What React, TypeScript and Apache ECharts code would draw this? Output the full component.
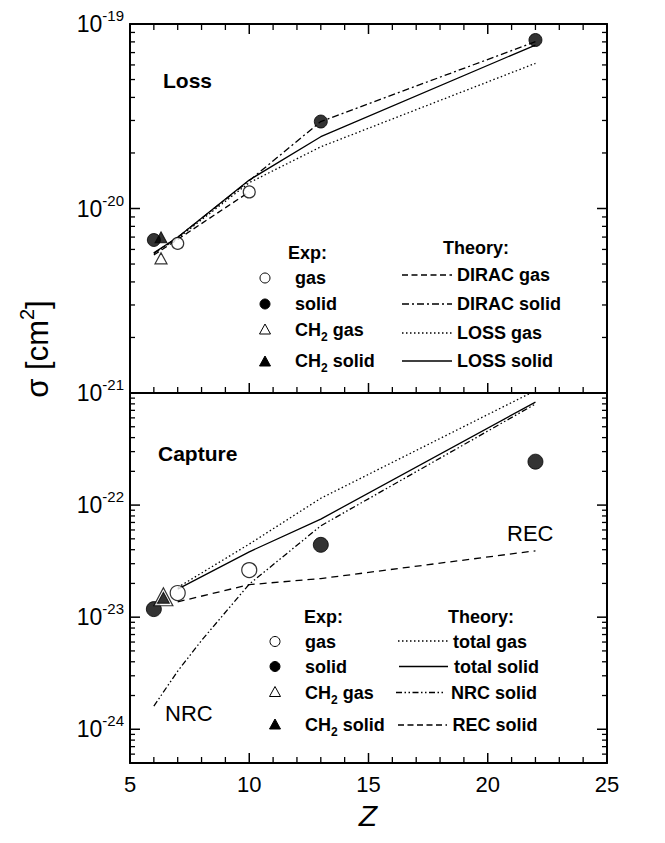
import React, { useEffect, useRef } from 'react';
import * as echarts from 'echarts';

// ---------- data ----------
const Z_MIN = 5;
const Z_MAX = 25;
const Z_INTERVAL = 5;
const zTicks = [6, 7, 8, 9, 10, 11, 12, 13, 14, 15, 16, 17, 18, 19, 20, 21, 22, 23, 24];

// Loss panel: theory curves
const lossTheoryZ = [6, 7, 10, 13, 22];
const diracGasZ = [6, 7, 10];
const diracGas = [5.6e-21, 6.8e-21, 1.23e-20];
const diracSolid = [5.71e-21, 6.98e-21, 1.416e-20, 2.96e-20, 8.02e-20];
const lossGas = [5.71e-21, 6.89e-21, 1.38e-20, 2.16e-20, 6.12e-20];
const lossSolid = [5.76e-21, 6.98e-21, 1.427e-20, 2.45e-20, 7.69e-20];
// Loss panel: experiment
const lossExpGasZ = [7, 10];
const lossExpGas = [6.47e-21, 1.23e-20];
const lossExpSolidZ = [6, 13, 22];
const lossExpSolid = [6.75e-21, 2.96e-20, 8.19e-20];
const lossCH2GasZ = [6.3];
const lossCH2Gas = [5.37e-21];
const lossCH2SolidZ = [6.3];
const lossCH2Solid = [6.98e-21];

// Capture panel: theory curves
const capTheoryZ = [7, 10, 13, 22];
const totalGas = [1.84e-23, 4.49e-23, 1.15e-22, 1.05e-21];
const totalSolid = [1.78e-23, 3.83e-23, 7.5e-23, 8.3e-22];
const recSolid = [1.37e-23, 1.95e-23, 2.21e-23, 3.91e-23];
const nrcZ = [6, 7, 8, 10, 13, 22];
const nrcSolid = [1.61e-24, 3.3e-24, 6.2e-24, 1.97e-23, 6.53e-23, 7.98e-22];
// Capture panel: experiment
const capExpGasZ = [7, 10];
const capExpGas = [1.64e-23, 2.63e-23];
const capExpSolidZ = [6, 13, 22];
const capExpSolid = [1.18e-23, 4.42e-23, 2.44e-22];
const capCH2GasZ = [6.4];
const capCH2Gas = [1.52e-23];
const capCH2SolidZ = [6.4];
const capCH2Solid = [1.49e-23];

// axis ranges / ticks
const lossYMin = 1e-21;
const lossYMax = 1e-19;
const capYMin = 5e-25;
const capYMax = 1e-21;
const minorMultiples = [1, 2, 3, 4, 5, 6, 7, 8, 9];
const lossDecades = [-21, -20, -19];
const capDecades = [-25, -24, -23, -22, -21];

// texts
const lossTitle = 'Loss';
const capTitle = 'Capture';
const expLabels = ['gas', 'solid', 'CH2 gas', 'CH2 solid'];
const lossTheoryLabels = ['DIRAC gas', 'DIRAC solid', 'LOSS gas', 'LOSS solid'];
const capTheoryLabels = ['total gas', 'total solid', 'NRC solid', 'REC solid'];

// ---------- helpers ----------
const FONT = "'Liberation Sans', Arial, Helvetica, sans-serif";
const zip = (xs: number[], ys: number[]) => xs.map((x, i) => [x, ys[i]]);

const DASH = [6, 3.5];
const DASHDOT = [7, 3, 2, 3];
const DOT = [1.5, 2.5];
const DASHDOTDOT = [6, 2.5, 1.5, 2.5, 1.5, 2.5];
const REC_DASH = [7, 5];

const yTickVals = (decades: number[], lo: number, hi: number, major: boolean) => {
  const out: number[] = [];
  decades.forEach((d) => {
    minorMultiples.forEach((m) => {
      const v = m * Math.pow(10, d);
      if (v > lo * 1.0001 && v <= hi * 1.0001 && (m === 1) === major) out.push(v);
    });
  });
  return out;
};

const logLabel = (hide: number[]) => (v: number) => {
  const e = Math.log10(v);
  const r = Math.round(e);
  if (Math.abs(e - r) > 1e-6 || hide.includes(r)) return '';
  return `{b|10}{s|${r}}`;
};

const lineSeries = (xi: number, yi: number, data: number[][], type: any) => ({
  type: 'line',
  xAxisIndex: xi,
  yAxisIndex: yi,
  data,
  symbol: 'none',
  showSymbol: false,
  clip: true,
  silent: true,
  z: 2,
  lineStyle: { color: '#000', width: 1.3, type },
});

const scatterSeries = (
  xi: number,
  yi: number,
  data: number[][],
  symbol: string,
  size: any,
  filled: boolean,
  z = 4
) => ({
  type: 'scatter',
  xAxisIndex: xi,
  yAxisIndex: yi,
  data,
  symbol,
  symbolSize: size,
  silent: true,
  z,
  itemStyle: filled
    ? { color: '#000', borderColor: '#000', borderWidth: 1 }
    : { color: '#fff', borderColor: '#000', borderWidth: 1.2 },
});

// tick marks drawn as thin rect symbols placed by the axes' own scales
const tickSeries = (xi: number, yi: number, data: number[][], size: number[], offset: number[]) => ({
  type: 'scatter',
  xAxisIndex: xi,
  yAxisIndex: yi,
  data,
  symbol: 'rect',
  symbolSize: size,
  symbolOffset: offset,
  silent: true,
  clip: false,
  z: 10,
  itemStyle: { color: '#000', borderWidth: 0, opacity: 1 },
  emphasis: { disabled: true },
});

const panelTicks = (yi: number, lo: number, hi: number, decades: number[], topTicks: boolean) => {
  const out: any[] = [];
  const majZ = zTicks.filter((z) => z % Z_INTERVAL === 0);
  const minZ = zTicks.filter((z) => z % Z_INTERVAL !== 0);
  // x ticks, bottom edge (pointing up)
  out.push(tickSeries(yi, yi, majZ.map((z) => [z, lo]), [1.5, 10], [0, -5]));
  out.push(tickSeries(yi, yi, minZ.map((z) => [z, lo]), [1.3, 6], [0, -3]));
  if (topTicks) {
    out.push(tickSeries(yi, yi, majZ.map((z) => [z, hi]), [1.5, 10], [0, 5]));
    out.push(tickSeries(yi, yi, minZ.map((z) => [z, hi]), [1.3, 6], [0, 3]));
  }
  const majV = yTickVals(decades, lo, hi, true);
  const minV = yTickVals(decades, lo, hi, false);
  // y ticks, left edge (pointing right) and right edge (pointing left)
  out.push(tickSeries(yi, yi, majV.map((v) => [Z_MIN, v]), [10, 1.5], [5, 0]));
  out.push(tickSeries(yi, yi, minV.map((v) => [Z_MIN, v]), [5, 1.3], [2.5, 0]));
  out.push(tickSeries(yi, yi, majV.map((v) => [Z_MAX, v]), [10, 1.5], [-5, 0]));
  out.push(tickSeries(yi, yi, minV.map((v) => [Z_MAX, v]), [5, 1.3], [-2.5, 0]));
  return out;
};

const RICH_LEG = {
  n: { fontFamily: FONT, fontSize: 18, fontWeight: 'bold', lineHeight: 26, color: '#000' },
  sub: { fontFamily: FONT, fontSize: 12, fontWeight: 'bold', lineHeight: 12, verticalAlign: 'bottom', color: '#000' },
};

const withSub = (s: string) => {
  if (s.startsWith('CH2')) return `{n|CH}{sub|2}{n|${s.slice(3)}}`;
  return `{n|${s}}`;
};

const txt = (x: number, y: number, text: string, extra: any = {}) => ({
  type: 'text',
  x,
  y,
  z: 100,
  silent: true,
  style: {
    text,
    fill: '#000',
    fontFamily: FONT,
    fontSize: 18,
    fontWeight: 'bold',
    align: 'left',
    verticalAlign: 'middle',
    rich: RICH_LEG,
    ...extra,
  },
});

const sample = (x1: number, x2: number, y: number, dash: any) => ({
  type: 'line',
  z: 100,
  silent: true,
  shape: { x1, y1: y, x2, y2: y },
  style: { stroke: '#000', lineWidth: 1.3, lineDash: dash },
});

const circ = (x: number, y: number, r: number, filled: boolean) => ({
  type: 'circle',
  z: 100,
  silent: true,
  shape: { cx: x, cy: y, r },
  style: { fill: filled ? '#000' : '#fff', stroke: '#000', lineWidth: 1 },
});

const tri = (x: number, y: number, w: number, h: number, filled: boolean) => ({
  type: 'polygon',
  z: 100,
  silent: true,
  shape: { points: [[x - w / 2, y + h / 2], [x + w / 2, y + h / 2], [x, y - h / 2]] },
  style: { fill: filled ? '#000' : '#fff', stroke: '#000', lineWidth: 1 },
});

export default function App() {
  const ref = useRef<HTMLDivElement>(null);

  useEffect(() => {
    if (!ref.current) return;
    const chart = echarts.init(ref.current, null, { renderer: 'svg' });

    const xBase = (gridIndex: number, position: string, showLabel: boolean) => ({
      type: 'value',
      gridIndex,
      position,
      min: Z_MIN,
      max: Z_MAX,
      interval: Z_INTERVAL,
      axisLine: { show: true, onZero: false, lineStyle: { color: '#000', width: 2 } },
      axisTick: { show: false },
      minorTick: { show: false },
      splitLine: { show: false },
      axisLabel: {
        show: showLabel,
        margin: 10,
        color: '#000',
        fontFamily: FONT,
        fontSize: 22,
      },
    });
    const yBase = (gridIndex: number, position: string, min: number, max: number, showLabel: boolean, hide: number[]) => ({
      type: 'log',
      logBase: 10,
      gridIndex,
      position,
      min,
      max,
      axisLine: { show: true, onZero: false, lineStyle: { color: '#000', width: 2 } },
      axisTick: { show: false },
      minorTick: { show: false },
      splitLine: { show: false },
      axisLabel: {
        show: showLabel,
        margin: 6,
        formatter: logLabel(hide),
        rich: {
          b: { fontFamily: FONT, fontSize: 23, lineHeight: 32, color: '#000' },
          s: { fontFamily: FONT, fontSize: 15, lineHeight: 14, verticalAlign: 'top', color: '#000' },
        },
      },
    });

    const graphic: any[] = [
      // panel titles
      txt(163, 80, lossTitle, { rich: undefined, fontSize: 21 }),
      txt(158, 453, capTitle, { rich: undefined, fontSize: 21 }),
      txt(507, 533, 'REC', { rich: undefined, fontSize: 22, fontWeight: 'normal' }),
      txt(165, 713, 'NRC', { rich: undefined, fontSize: 22, fontWeight: 'normal' }),
      // axis titles
      {
        type: 'text',
        x: 37,
        y: 349,
        rotation: Math.PI / 2,
        z: 100,
        silent: true,
        style: {
          text: '{a|σ [cm}{s|2}{a|]}',
          align: 'center',
          verticalAlign: 'middle',
          fill: '#000',
          rich: {
            a: { fontFamily: FONT, fontSize: 31, lineHeight: 40, color: '#000' },
            s: { fontFamily: FONT, fontSize: 20, lineHeight: 22, verticalAlign: 'top', color: '#000' },
          },
        },
      },
      {
        type: 'text',
        x: 368,
        y: 815,
        z: 100,
        silent: true,
        style: {
          text: 'Z',
          align: 'center',
          verticalAlign: 'middle',
          fill: '#000',
          fontFamily: FONT,
          fontSize: 30,
          fontStyle: 'italic',
        },
      },
      // top legend
      txt(288, 253, '{n|Exp:}'),
      txt(443, 248, '{n|Theory:}'),
      circ(265, 278, 5, false),
      circ(265, 304, 5, true),
      tri(265, 329, 11, 10, false),
      tri(265, 361, 11, 10, true),
      txt(295, 278, withSub(expLabels[0])),
      txt(295, 304, withSub(expLabels[1])),
      txt(295, 330, withSub(expLabels[2])),
      txt(295, 361, withSub(expLabels[3])),
      sample(402, 452, 275, DASH),
      sample(402, 452, 304, DASHDOT),
      sample(402, 452, 333, DOT),
      sample(402, 452, 361, null),
      txt(457, 275, withSub(lossTheoryLabels[0])),
      txt(457, 304, withSub(lossTheoryLabels[1])),
      txt(457, 333, withSub(lossTheoryLabels[2])),
      txt(457, 361, withSub(lossTheoryLabels[3])),
      // bottom legend
      txt(304, 617, '{n|Exp:}'),
      txt(448, 617, '{n|Theory:}'),
      circ(275, 641.5, 5, false),
      circ(275, 666.5, 5, true),
      tri(275, 691.5, 11, 10, false),
      tri(275, 724, 11, 10, true),
      txt(305, 641.5, withSub(expLabels[0])),
      txt(305, 666.5, withSub(expLabels[1])),
      txt(305, 692.5, withSub(expLabels[2])),
      txt(305, 725, withSub(expLabels[3])),
      sample(398, 448, 641, DOT),
      sample(399, 448, 666.5, null),
      sample(396, 444, 692.5, DASHDOTDOT),
      sample(398, 447, 725, DASH),
      txt(453, 641.5, withSub(capTheoryLabels[0])),
      txt(454, 666.5, withSub(capTheoryLabels[1])),
      txt(451, 692.5, withSub(capTheoryLabels[2])),
      txt(452.5, 725, withSub(capTheoryLabels[3])),
    ];

    chart.setOption({
      animation: false,
      grid: [
        { left: 130, top: 24, width: 477, height: 369, outerBoundsMode: 'none', containLabel: false },
        { left: 130, top: 393, width: 477, height: 370, outerBoundsMode: 'none', containLabel: false },
      ],
      xAxis: [xBase(0, 'bottom', false), xBase(1, 'bottom', true), xBase(0, 'top', false)],
      yAxis: [
        yBase(0, 'left', lossYMin, lossYMax, true, [-21]),
        yBase(1, 'left', capYMin, capYMax, true, []),
        yBase(0, 'right', lossYMin, lossYMax, false, []),
        yBase(1, 'right', capYMin, capYMax, false, []),
      ],
      series: [
        // loss theory
        lineSeries(0, 0, zip(diracGasZ, diracGas), DASH),
        lineSeries(0, 0, zip(lossTheoryZ, diracSolid), DASHDOT),
        lineSeries(0, 0, zip(lossTheoryZ, lossGas), DOT),
        lineSeries(0, 0, zip(lossTheoryZ, lossSolid), 'solid'),
        // loss exp
        scatterSeries(0, 0, zip(lossExpGasZ, lossExpGas), 'circle', 12, false),
        scatterSeries(0, 0, zip(lossExpSolidZ, lossExpSolid), 'circle', 13, true),
        scatterSeries(0, 0, zip(lossCH2GasZ, lossCH2Gas), 'triangle', [12, 11], false),
        scatterSeries(0, 0, zip(lossCH2SolidZ, lossCH2Solid), 'triangle', [12, 11], true),
        // capture theory
        lineSeries(1, 1, zip(capTheoryZ, totalGas), DOT),
        lineSeries(1, 1, zip(capTheoryZ, totalSolid), 'solid'),
        lineSeries(1, 1, zip(nrcZ, nrcSolid), DASHDOTDOT),
        lineSeries(1, 1, zip(capTheoryZ, recSolid), REC_DASH),
        // capture exp
        scatterSeries(1, 1, zip(capExpGasZ, capExpGas), 'circle', 15, false),
        scatterSeries(1, 1, zip(capExpSolidZ, capExpSolid), 'circle', 15, true),
        scatterSeries(1, 1, zip(capCH2GasZ, capCH2Gas), 'triangle', [19, 18], false, 4),
        scatterSeries(1, 1, zip(capCH2SolidZ, capCH2Solid), 'triangle', [12, 11], true, 5),
        // tick marks
        ...panelTicks(0, lossYMin, lossYMax, lossDecades, true),
        ...panelTicks(1, capYMin, capYMax, capDecades, false),
      ],
      graphic,
    });

    return () => chart.dispose();
  }, []);

  return (
    <div
      ref={ref}
      style={{ position: 'fixed', left: 0, top: 0, width: 665, height: 843, background: '#fff' }}
    />
  );
}
